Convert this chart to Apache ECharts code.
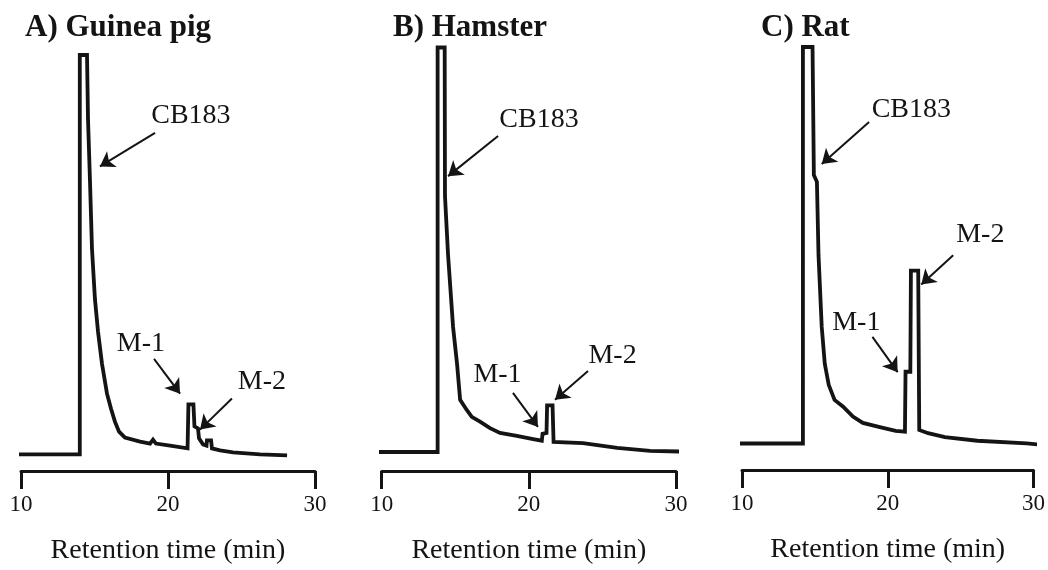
<!DOCTYPE html>
<html>
<head>
<meta charset="utf-8">
<script src="https://cdn.jsdelivr.net/npm/echarts@6/dist/echarts.min.js"></script>
<style>
  html, body { margin: 0; padding: 0; background: #ffffff; }
  #chart { width: 1048px; height: 570px; }
</style>
</head>
<body>
<div id="chart"></div>
<script>
// Chromatogram traces: [retention time (min), detector response (% of full scale)]
const guineaPigTrace = [
  [9.46, 0], [14.0, 0], [14.0, 100], [14.49, 100], [14.56, 83.8], [14.69, 68.8],
  [14.83, 51.4], [15.03, 38.9], [15.24, 30.7], [15.51, 22.7], [15.85, 15.2], [16.12, 11.5],
  [16.39, 8.2], [16.67, 5.7], [17.07, 4.2], [18.10, 3.2], [18.78, 2.7], [18.98, 3.7],
  [19.18, 2.7], [20.14, 2.2], [21.33, 1.5], [21.39, 12.5], [21.73, 12.5], [21.80, 7.0],
  [22.04, 6.5], [22.11, 4.0], [22.38, 2.5], [22.62, 2.2], [22.65, 3.5], [22.93, 3.5],
  [22.99, 1.5], [23.54, 1.0], [24.42, 0.5], [26.26, 0], [28.10, -0.25]
];
const hamsterTrace = [
  [9.34, 0], [13.80, 0], [13.80, 100], [14.28, 100], [14.30, 63.3], [14.51, 48.7],
  [14.85, 30.9], [15.12, 21.8], [15.33, 12.9], [15.78, 10.4], [16.12, 8.7], [16.68, 7.5],
  [17.36, 5.9], [18.04, 4.7], [19.18, 4.0], [20.29, 3.2], [20.88, 2.8], [20.93, 4.5],
  [21.20, 4.7], [21.24, 11.5], [21.61, 11.5], [21.68, 2.5], [23.68, 2.2], [26.00, 1.0],
  [28.24, 0.3], [30.48, 0.1]
];
const ratTrace = [
  [9.76, 0], [14.18, 0], [14.18, 100], [14.84, 100], [14.93, 67.7], [15.14, 66.0],
  [15.25, 47.5], [15.47, 29.4], [15.68, 20.1], [15.95, 14.8], [16.35, 11.0], [16.94, 9.3],
  [17.61, 6.8], [18.29, 5.2], [19.39, 4.2], [20.54, 3.2], [21.18, 3.0], [21.22, 18.1],
  [21.55, 18.1], [21.59, 43.6], [22.09, 43.6], [22.16, 3.4], [22.77, 2.6], [23.92, 1.6],
  [26.15, 0.7], [29.53, 0.05], [30.68, -0.4]
];

const panelTitles = ['A) Guinea pig', 'B) Hamster', 'C) Rat'];
const timeRange = [10, 30];
const tickStep = 10;
const axisTitle = 'Retention time (min)';

// Peak labels: [text, retention time, response]
const peakLabelsA = [['CB183', 21.56, 84.8], ['M-1', 18.16, 27.7], ['M-2', 26.39, 18.1]];
const peakLabelsB = [['CB183', 20.69, 82.1], ['M-1', 17.87, 19.2], ['M-2', 25.69, 23.7]];
const peakLabelsC = [['CB183', 21.62, 84.1], ['M-1', 17.84, 30.6], ['M-2', 26.35, 52.7]];

// Arrows from label to peak: [fromTime, fromResponse, toTime, toResponse]
const peakArrowsA = [[19.12, 80.5, 15.37, 72.1], [19.05, 23.9, 20.82, 15.2], [24.35, 14.0, 22.18, 6.2]];
const peakArrowsB = [[17.91, 78.1, 14.51, 68.2], [18.92, 14.6, 20.62, 6.2], [24.02, 20.0, 21.78, 12.9]];
const peakArrowsC = [[18.72, 81.1, 15.47, 70.5], [18.95, 26.9, 20.68, 18.0], [24.49, 47.5, 22.30, 40.1]];

// Lower limit of each response axis (keeps the baseline above the time axis)
const responseFloor = [-4.16, -4.7, -6.68];

const serif = '"Liberation Serif", "Times New Roman", serif';
const ink = '#141414';

const grids = [
  { left: 21, right: 733, top: 55, bottom: 97.3 },
  { left: 381.7, right: 372, top: 47.5, bottom: 99 },
  { left: 742, right: 10, top: 47, bottom: 100 }
];
const titleLeft = [25, 393, 761];

const traces = [guineaPigTrace, hamsterTrace, ratTrace];
const labels = [peakLabelsA, peakLabelsB, peakLabelsC];
const arrows = [peakArrowsA, peakArrowsB, peakArrowsC];

const chart = echarts.init(document.getElementById('chart'), null, { renderer: 'canvas' });

chart.setOption({
  backgroundColor: '#ffffff',
  animation: false,
  title: panelTitles.map((t, i) => ({
    text: t,
    left: titleLeft[i],
    top: 12,
    padding: 0,
    textStyle: { fontFamily: serif, fontWeight: 'bold', fontSize: 31, color: ink }
  })),
  grid: grids,
  xAxis: grids.map((g, i) => ({
    type: 'value',
    gridIndex: i,
    min: timeRange[0],
    max: timeRange[1],
    interval: tickStep,
    name: axisTitle,
    nameLocation: 'middle',
    nameGap: 66,
    nameTextStyle: { fontFamily: serif, fontSize: 28, color: ink },
    axisLine: { show: true, onZero: false, lineStyle: { color: ink, width: 3 } },
    axisTick: { show: true, inside: false, length: 18, lineStyle: { color: ink, width: 3 } },
    axisLabel: { margin: 22, fontFamily: serif, fontSize: 23, color: ink },
    splitLine: { show: false }
  })),
  yAxis: grids.map((g, i) => ({
    type: 'value',
    gridIndex: i,
    min: responseFloor[i],
    max: 100,
    show: false
  })),
  series: traces.map((data, i) => ({
    type: 'line',
    xAxisIndex: i,
    yAxisIndex: i,
    data: data,
    showSymbol: false,
    symbol: 'none',
    clip: false,
    lineStyle: { color: ink, width: 3.8, join: 'miter' },
    markLine: {
      silent: true,
      symbol: ['none', 'arrow'],
      symbolSize: 14,
      lineStyle: { color: ink, width: 2, type: 'solid' },
      label: { show: false },
      data: arrows[i].map(a => [{ coord: [a[0], a[1]] }, { coord: [a[2], a[3]] }])
    },
    markPoint: {
      silent: true,
      symbol: 'circle',
      symbolSize: 1,
      itemStyle: { color: 'rgba(0,0,0,0)' },
      label: {
        show: true,
        position: 'inside',
        formatter: p => p.name,
        fontFamily: serif,
        fontSize: 28,
        color: ink
      },
      data: labels[i].map(l => ({ name: l[0], coord: [l[1], l[2]] }))
    }
  }))
});
</script>
</body>
</html>
